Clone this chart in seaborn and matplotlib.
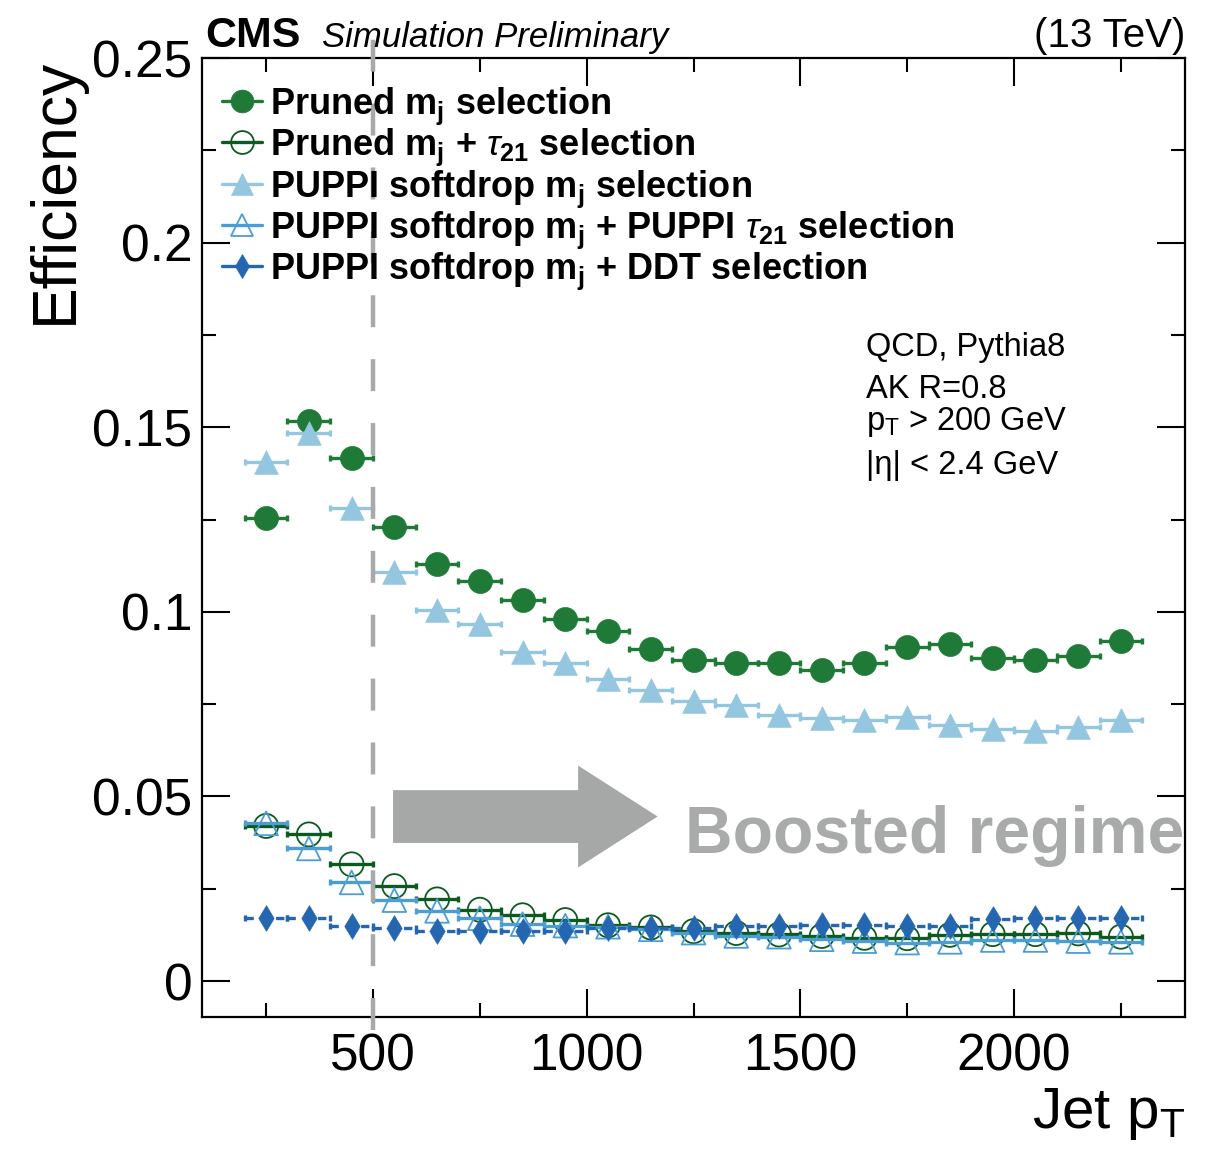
import matplotlib
matplotlib.use("Agg")
import matplotlib.pyplot as plt
import seaborn as sns
from matplotlib.lines import Line2D

# ---------------- data ----------------
pt_centers = [250, 350, 450, 550, 650, 750, 850, 950, 1050, 1150, 1250,
              1350, 1450, 1550, 1650, 1750, 1850, 1950, 2050, 2150, 2250]
bin_half_width = 50

eff_pruned = [0.1254, 0.1517, 0.1417, 0.1230, 0.1129, 0.1083, 0.1032, 0.0980,
              0.0948, 0.0899, 0.0869, 0.0861, 0.0861, 0.0842, 0.0861, 0.0905,
              0.0913, 0.0875, 0.0869, 0.0880, 0.0921]
eff_pruned_tau21 = [0.0420, 0.0397, 0.0316, 0.0257, 0.0221, 0.0193, 0.0178, 0.0165,
                    0.0151, 0.0145, 0.0135, 0.0130, 0.0126, 0.0122, 0.0117, 0.0116,
                    0.0125, 0.0127, 0.0127, 0.0129, 0.0120]
eff_puppi = [0.1407, 0.1483, 0.1282, 0.1107, 0.1005, 0.0967, 0.0891, 0.0861,
             0.0818, 0.0788, 0.0758, 0.0747, 0.0720, 0.0713, 0.0706, 0.0716,
             0.0694, 0.0683, 0.0677, 0.0688, 0.0706]
eff_puppi_tau21 = [0.0427, 0.0359, 0.0267, 0.0219, 0.0190, 0.0170, 0.0154, 0.0150,
                   0.0147, 0.0140, 0.0131, 0.0122, 0.0120, 0.0113, 0.0108, 0.0104,
                   0.0106, 0.0111, 0.0111, 0.0108, 0.0106]
eff_puppi_ddt = [0.0172, 0.0172, 0.0149, 0.0143, 0.0136, 0.0136, 0.0136, 0.0136,
                 0.0143, 0.0143, 0.0144, 0.0149, 0.0149, 0.0153, 0.0152, 0.0149,
                 0.0149, 0.0167, 0.0170, 0.0170, 0.0171]

x_ticks = [500, 1000, 1500, 2000]
x_tick_labels = ["500", "1000", "1500", "2000"]
y_ticks = [0, 0.05, 0.1, 0.15, 0.2, 0.25]
y_tick_labels = ["0", "0.05", "0.1", "0.15", "0.2", "0.25"]

legend_labels = [
    r"Pruned m$_\mathbf{j}$ selection",
    r"Pruned m$_\mathbf{j}$ + $\tau_\mathbf{21}$ selection",
    r"PUPPI softdrop m$_\mathbf{j}$ selection",
    r"PUPPI softdrop m$_\mathbf{j}$ + PUPPI $\tau_\mathbf{21}$ selection",
    r"PUPPI softdrop m$_\mathbf{j}$ + DDT selection",
]
info_lines = ["QCD, Pythia8", "AK R=0.8", r"p$_\mathrm{T}$ > 200 GeV", "|η| < 2.4 GeV"]

boost_cut = 500

# ---------------- style ----------------
sns.set_theme(style="ticks")
plt.rcParams["font.family"] = ["Liberation Sans", "DejaVu Sans"]
plt.rcParams.update({
    "mathtext.fontset": "custom",
    "mathtext.rm": "Liberation Sans",
    "mathtext.it": "Liberation Sans:italic",
    "mathtext.bf": "Liberation Sans:bold",
    "lines.scale_dashes": False,
    "text.color": "black",
    "axes.labelcolor": "black",
    "xtick.color": "black",
    "ytick.color": "black",
    "xtick.labelcolor": "black",
    "ytick.labelcolor": "black",
    "axes.edgecolor": "black",
})

W, H = 1210, 1162
fig = plt.figure(figsize=(W / 100, H / 100), dpi=100)
ax_l, ax_r, ax_t, ax_b = 202, 1185, 58, 1017
ax = fig.add_axes([ax_l / W, 1 - ax_b / H, (ax_r - ax_l) / W, (ax_b - ax_t) / H])

def ax_xy(px, py):
    return (px - ax_l) / (ax_r - ax_l), (ax_b - py) / (ax_b - ax_t)

series = [
    # values, marker, size, face, edge/bar colour, open, dashed bars
    (eff_pruned, "o", 300, "#1f7a38", "#1f7a38", False, False),
    (eff_pruned_tau21, "o", 300, "none", "#0d5a20", True, False),
    (eff_puppi, "^", 290, "#94c6e0", "#94c6e0", False, False),
    (eff_puppi_tau21, "^", 290, "none", "#4c9dd3", True, False),
    (eff_puppi_ddt, "d", 170, "#2467b0", "#2467b0", False, True),
]

z = 3
for vals, mk, s, fc, ec, is_open, dashed in series:
    eb = ax.errorbar(pt_centers, vals, xerr=bin_half_width, fmt="none",
                     ecolor=ec, elinewidth=2.4, capsize=2.2, capthick=2.4,
                     zorder=z)
    if dashed:
        for lc in eb[2]:
            lc.set_linestyle((0, (6, 5)))
    sns.scatterplot(x=pt_centers, y=vals, ax=ax, marker=mk, s=s,
                    color=ec, edgecolor=ec, linewidth=1.3 if is_open else 0.5,
                    zorder=z + 1, legend=False)
    if is_open:
        ax.collections[-1].set_facecolor("none")
    z += 2

# dashed boosted-regime boundary
ax.vlines(boost_cut, -0.0133, 0.256, colors="#a9a9a9", linewidth=3.2,
          linestyles=[(0, (23, 23))], clip_on=False, zorder=20)

# arrow + text
ax.arrow(547, 0.04455, 619, 0, width=0.0143, head_width=0.0276,
         head_length=186, length_includes_head=True, color="#a6a8a7",
         linewidth=0, zorder=2)
ax.text(1231, 0.0347, "Boosted regime", color="#a9abaa", fontsize=47.5,
        fontweight="bold", ha="left", va="baseline", clip_on=True, zorder=2)

# axes
ax.set_xlim(100, 2400)
ax.set_ylim(-0.00975, 0.25)
ax.set_xticks(x_ticks)
ax.set_xticklabels(x_tick_labels)
ax.set_yticks(y_ticks)
ax.set_yticklabels(y_tick_labels)
ax.xaxis.set_minor_locator(matplotlib.ticker.MultipleLocator(250))
ax.yaxis.set_minor_locator(matplotlib.ticker.MultipleLocator(0.025))
ax.tick_params(which="both", direction="in", top=True, right=True,
               width=1.5, color="black", labelcolor="black", labelsize=37)
ax.tick_params(which="major", length=20)
ax.tick_params(which="minor", length=10)
ax.tick_params(axis="x", pad=11)
ax.tick_params(axis="y", pad=7)
for sp in ax.spines.values():
    sp.set_linewidth(1.6)
    sp.set_color("black")
ax.set_xlabel("")
ax.set_ylabel("")

# legend drawn entry by entry
row_centers = [101, 142, 184, 225, 266]
for (vals, mk, s, fc, ec, is_open, dashed), lab, yc in zip(series, legend_labels, row_centers):
    x0, yy = ax_xy(222, yc)
    x1, _ = ax_xy(262, yc)
    xm, _ = ax_xy(242, yc)
    ax.add_line(Line2D([x0, x1], [yy, yy], transform=ax.transAxes, color=ec,
                       linewidth=2.4, zorder=30))
    ax.add_line(Line2D([xm], [yy], transform=ax.transAxes, marker=mk,
                       markersize=(s ** 0.5) * 0.95,
                       markerfacecolor="none" if is_open else ec,
                       markeredgecolor=ec, markeredgewidth=1.3 if is_open else 0.5,
                       linestyle="none", zorder=31))
    xt, yt = ax_xy(270, yc + 13)
    ax.text(xt, yt, lab, transform=ax.transAxes, fontsize=26, color="black",
            fontweight="bold", ha="left", va="baseline", zorder=32)

# info text
for line, base in zip(info_lines, [356, 398, 430, 474]):
    fig.text(866 / W, 1 - base / H, line, fontsize=23.5, color="black",
             ha="left", va="baseline")

# header
fig.text(205 / W, 1 - 47 / H, "CMS", fontsize=31, fontweight="bold",
         color="black", ha="left", va="baseline")
fig.text(322 / W, 1 - 47 / H, "Simulation Preliminary", fontsize=25,
         style="italic", color="black", ha="left", va="baseline")
fig.text(1185 / W, 1 - 47 / H, "(13 TeV)", fontsize=29, color="black",
         ha="right", va="baseline")

# axis titles
fig.text(55 / W, 1 - 58 / H, "Efficiency", fontsize=45, rotation=90,
         color="black", ha="center", va="top")
fig.text(1185 / W, 1 - 1128 / H, r"Jet p$_\mathrm{T}$", fontsize=42,
         color="black", ha="right", va="baseline")

fig.savefig("out.png", dpi=100)
